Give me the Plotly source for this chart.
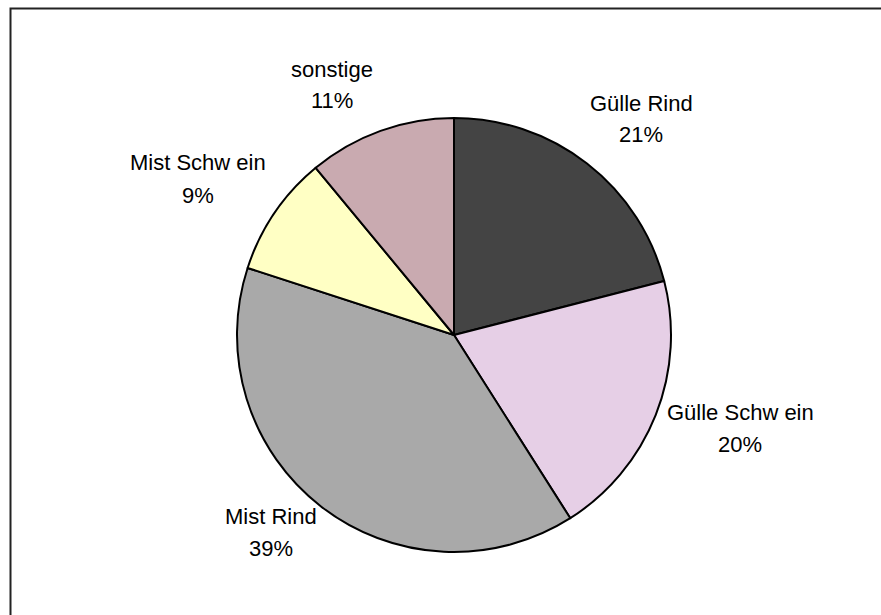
import plotly.graph_objects as go

labels = ["Gülle Rind", "Gülle Schw ein", "Mist Rind", "Mist Schw ein", "sonstige"]
values = [21, 20, 39, 9, 11]
colors = ["#444444", "#e6cfe6", "#a9a9a9", "#ffffc4", "#c9aab0"]

# label text-line centres in pixels (layout only): (x, y of name line, y of percent line)
label_pos = [(641, 103, 135), (740, 412, 444), (271, 516, 548), (198, 163, 195), (332, 69, 100)]

W, H = 881, 615
cx, cy, r = 454, 335, 217

fig = go.Figure(go.Pie(
    labels=labels, values=values, sort=False, direction="clockwise", rotation=0,
    marker=dict(colors=colors, line=dict(color="black", width=2)),
    textinfo="none", hoverinfo="label+percent", showlegend=False,
    domain=dict(x=[(cx - r) / W, (cx + r) / W], y=[1 - (cy + r) / H, 1 - (cy - r) / H]),
))

font = dict(family="Liberation Sans, Arial", size=22, color="black")
for lab, v, (px, py1, py2) in zip(labels, values, label_pos):
    fig.add_annotation(x=px / W, y=1 - py1 / H, xref="paper", yref="paper",
                       text=lab, showarrow=False, font=font,
                       xanchor="center", yanchor="middle")
    fig.add_annotation(x=px / W, y=1 - py2 / H, xref="paper", yref="paper",
                       text=f"{v}%", showarrow=False, font=font,
                       xanchor="center", yanchor="middle")

fig.add_shape(type="rect", xref="paper", yref="paper",
              x0=10.5 / W, x1=1.05, y0=-0.05, y1=1 - 8.5 / H,
              line=dict(color="#222222", width=2), fillcolor="rgba(0,0,0,0)")

fig.update_layout(width=W, height=H, margin=dict(l=0, r=0, t=0, b=0),
                  paper_bgcolor="white", plot_bgcolor="white")
fig.write_html("out.html", config={"displayModeBar": False},
               post_script="document.body.style.margin='0';")
